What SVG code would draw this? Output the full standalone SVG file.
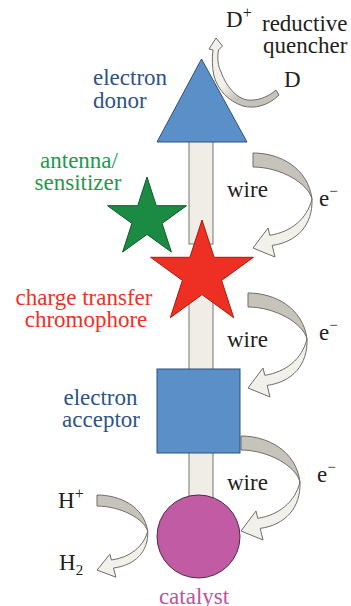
<svg xmlns="http://www.w3.org/2000/svg" width="351" height="606" viewBox="0 0 351 606">
<style>
text{font-family:"Liberation Serif","Times New Roman",serif;font-size:23px;fill:#231f20}
.blue{fill:#2d5486}
.green{fill:#1d9a4c}
.red{fill:#ee3124}
.mag{fill:#c2519f}
.mid{text-anchor:middle}
.wire{fill:#efede6;stroke:#77766f;stroke-width:1}
.dark{fill:#c6c4ba;stroke:#6e6d68;stroke-width:1;vector-effect:non-scaling-stroke}
.light{fill:#f1f0ea;stroke:#6e6d68;stroke-width:1;vector-effect:non-scaling-stroke}
</style>
<defs>
<g id="twist">
<path class="dark" d="M0,0 C27,0 55,15 59,46 C55,30 27,14 0,14 Z"/>
<path class="light" d="M59,46 C60,72 44,89 19.2,92.4 L22,104 L0,95 L15,75 L16.8,82.3 C38,79 54,66 59,46 Z"/>
</g>
<linearGradient id="qg" gradientUnits="userSpaceOnUse" x1="262" y1="104" x2="214" y2="62">
<stop offset="0.35" stop-color="#c6c4ba"/>
<stop offset="0.65" stop-color="#f1f0ea"/>
</linearGradient>
</defs>

<g id="connectors">
<rect class="wire" x="189" y="138" width="24" height="106"/>
<rect class="wire" x="189" y="290" width="24" height="80"/>
<rect class="wire" x="189" y="452" width="24" height="46"/>
<use href="#twist" transform="translate(253,153)"/>
<use href="#twist" transform="translate(248,293)"/>
<use href="#twist" transform="translate(241,436)"/>
<use href="#twist" transform="translate(97,495) scale(0.86,0.79)"/>
</g>

<g id="donor">
<polygon points="201.5,59 157,142 247,142" fill="#5b8fc8" stroke="#2e4f7c" stroke-width="1"/>
<text class="blue" x="93" y="85">electron</text>
<text class="blue" x="93" y="108">donor</text>
</g>

<g id="quencher">
<path d="M279,95 C268,106 254,109 243,106 C228,101 218,90 214,76 C212,67 212,58 213,50 L209,49 L216,38 L222.5,46 L218.5,50 C217,58 218,66 221,72 C226,86 236,98 247,100 C258,101 268,97 276,90 Z" fill="url(#qg)" stroke="#6e6d68" stroke-width="1"/>
<text x="226" y="27">D<tspan font-size="16" dy="-9">+</tspan></text>
<text x="262" y="31">reductive</text>
<text x="263" y="53">quencher</text>
<text x="284" y="87">D</text>
</g>

<g id="antenna">
<polygon points="147,177 156.3,205.7 186.5,205.7 162.1,223.4 171.4,252.1 147,234.4 122.6,252.1 131.9,223.4 107.5,205.7 137.7,205.7" fill="#1b8a43" stroke="#0f5a2a" stroke-width="1"/>
<text class="green mid" x="79" y="168">antenna/</text>
<text class="green mid" x="78" y="190">sensitizer</text>
</g>

<g id="chromophore">
<polygon points="202,220 214.1,257.3 253.4,257.3 221.6,280.4 233.7,317.7 202,294.6 170.3,317.7 182.4,280.4 150.6,257.3 189.9,257.3" fill="#ee2f24" stroke="#a8190f" stroke-width="1"/>
<text class="red mid" x="84" y="305">charge transfer</text>
<text class="red mid" x="86" y="327">chromophore</text>
</g>

<g id="acceptor">
<rect x="157" y="369" width="83" height="84" fill="#5b8fc8" stroke="#2e4f7c" stroke-width="1"/>
<text class="blue mid" x="100.5" y="405">electron</text>
<text class="blue mid" x="101" y="427">acceptor</text>
</g>

<g id="catalyst">
<circle cx="198.5" cy="536.5" r="41.5" fill="#c05ba4" stroke="#4f2546" stroke-width="1"/>
<text class="mag mid" x="194" y="604">catalyst</text>
</g>

<g id="labels">
<text x="227" y="197">wire</text>
<text x="227" y="347">wire</text>
<text x="227" y="490">wire</text>
<text x="319" y="206">e<tspan font-size="15" dy="-10">−</tspan></text>
<text x="319" y="340">e<tspan font-size="15" dy="-10">−</tspan></text>
<text x="317" y="482">e<tspan font-size="15" dy="-10">−</tspan></text>
<text x="58" y="508">H<tspan font-size="16" dy="-9">+</tspan></text>
<text x="59" y="570">H<tspan font-size="15" dy="5">2</tspan></text>
</g>
</svg>
